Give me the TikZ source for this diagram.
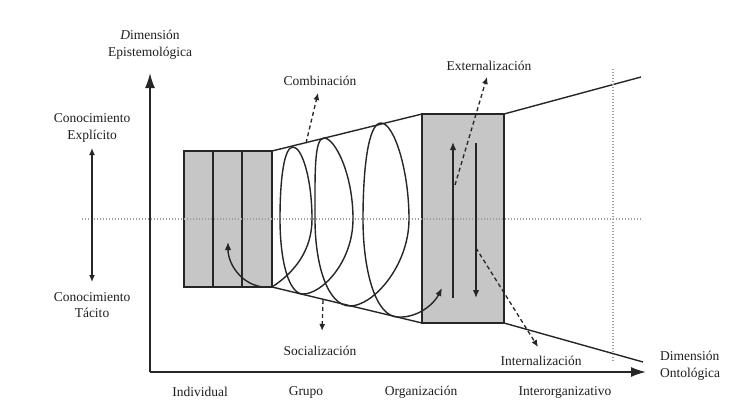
\documentclass[tikz,border=0pt]{standalone}
\usepackage{fontspec}
\setmainfont{Liberation Serif}
\usetikzlibrary{arrows.meta}
\begin{document}
\begin{tikzpicture}[x=1pt,y=-1pt,
  ln/.style={line width=1.4pt, draw=black!85},
  boxfill/.style={fill=gray!45, draw=black!85, line width=1.6pt},
  dotline/.style={line width=1.1pt, draw=gray!75, dash pattern=on 1pt off 2pt},
  dasharrow/.style={line width=1.3pt, draw=black!85, dash pattern=on 4pt off 3pt, -{Latex[length=7pt,width=6pt]}},
  smallarrow/.style={-{Latex[length=8pt,width=6.5pt]}},
  axisarrow/.style={line width=1.7pt, draw=black!85, -{Latex[length=15pt,width=10pt]}},
  lbl/.style={font=\fontsize{13.5}{16.5}\selectfont, align=center, inner sep=0pt, text=black!88}]
\useasboundingbox (0,0) rectangle (736,410);
\fill[white] (0,0) rectangle (736,410);

% key points
\coordinate (o) at (150,372);
\coordinate (ytip) at (150,73);
\coordinate (xtip) at (646,372);
\coordinate (b1sw) at (184,287);
\coordinate (b1nw) at (184,151);
\coordinate (b1ne) at (272,151);
\coordinate (b1se) at (272,287);
\coordinate (b2nw) at (422,114);
\coordinate (b2sw) at (422,323);
\coordinate (b2ne) at (504,114);
\coordinate (b2se) at (504,323);
\coordinate (tr) at (641,77);
\coordinate (br) at (643,362);

% axes
\draw[axisarrow] (o) -- (ytip);
\draw[axisarrow] (o) -- (xtip);

% trapezoid and outer lines
\draw[ln] (b1ne) -- (b2nw);
\draw[ln] (b1se) -- (b2sw);
\draw[ln] (b2ne) -- (tr);
\draw[ln] (b2se) -- (br);

% boxes
\draw[boxfill] (b1sw) rectangle (b1ne);
\coordinate (d1t) at (213,151); \coordinate (d1b) at (213,287);
\coordinate (d2t) at (242,151); \coordinate (d2b) at (242,287);
\draw[ln, line width=1.6pt] (d1t) -- (d1b);
\draw[ln, line width=1.6pt] (d2t) -- (d2b);
\draw[boxfill] (b2sw) rectangle (b2ne);

% dotted reference lines
\coordinate (hl) at (82,219); \coordinate (hr) at (641,219);
\coordinate (vt) at (613,69); \coordinate (vb) at (613,362);
\draw[dotline] (hl) -- (hr);
\draw[dotline] (vt) -- (vb);

% left double arrow
\coordinate (ex) at (92,148); \coordinate (tc) at (92,282);
\draw[ln, {Latex[length=7pt,width=6pt]}-{Latex[length=7pt,width=6pt]}] (ex) -- (tc);

% curved arrow in box 1
\coordinate (c1) at (228,242);
\draw[ln, smallarrow] (b1se) .. controls (245,290) and (228,266) .. (c1);

% spiral
\coordinate (send) at (442,288);
\draw[ln] (b1se) .. controls (295,272) and (312,250) .. (312,219)
  .. controls (312,179) and (302,147) .. (293,147)
  .. controls (284,147) and (280,179) .. (280,219)
  .. controls (280,262) and (289,294) .. (303,294)
  .. controls (322,294) and (353,262) .. (353,219)
  .. controls (353,174) and (335,138) .. (324,138)
  .. controls (314,138) and (315,174) .. (315,219)
  .. controls (315,266) and (328,306) .. (350,306)
  .. controls (373,306) and (409,266) .. (409,219)
  .. controls (409,170) and (394,123) .. (381,123)
  .. controls (368,123) and (363,170) .. (363,219)
  .. controls (363,272) and (376,317) .. (398,317);
\draw[ln, smallarrow] (398,317) .. controls (418,318) and (434,304) .. (send);

% arrows in box 2
\coordinate (u1) at (453,298); \coordinate (u2) at (453,142);
\coordinate (w1) at (476,143); \coordinate (w2) at (476,298);
\draw[ln, smallarrow] (u1) -- (u2);
\draw[ln, smallarrow] (w1) -- (w2);

% dashed arrows
\coordinate (cs) at (306,143); \coordinate (ce) at (318,93);
\coordinate (ss) at (323,300); \coordinate (se) at (322,331);
\coordinate (es) at (455,185); \coordinate (ee) at (487,77);
\coordinate (is) at (476,248); \coordinate (ie) at (538,347);
\draw[dasharrow] (cs) -- (ce);
\draw[dasharrow] (ss) -- (se);
\draw[dasharrow] (es) -- (ee);
\draw[dasharrow] (is) -- (ie);

% labels
\node[lbl] (ydim) at (150,45) {\textit{D}imensión\\Epistemológica};
\node[lbl] (cexp) at (92,128) {Conocimiento\\Explícito};
\node[lbl] (ctac) at (92,305) {Conocimiento\\Tácito};
\node[lbl] (comb) at (320,81) {Combinación};
\node[lbl] (ext) at (489,66) {Externalización};
\node[lbl] (soc) at (320,351) {Socialización};
\node[lbl] (int) at (541,361) {Internalización};
\node[lbl, anchor=west, align=left] (xdim) at (660,366) {Dimensión\\Ontológica};
\node[lbl] (ind) at (200,392) {Individual};
\node[lbl] (gru) at (306,392) {Grupo};
\node[lbl] (org) at (421,392) {Organización};
\node[lbl] (inter) at (565,392) {Interorganizativo};
\end{tikzpicture}
\end{document}
